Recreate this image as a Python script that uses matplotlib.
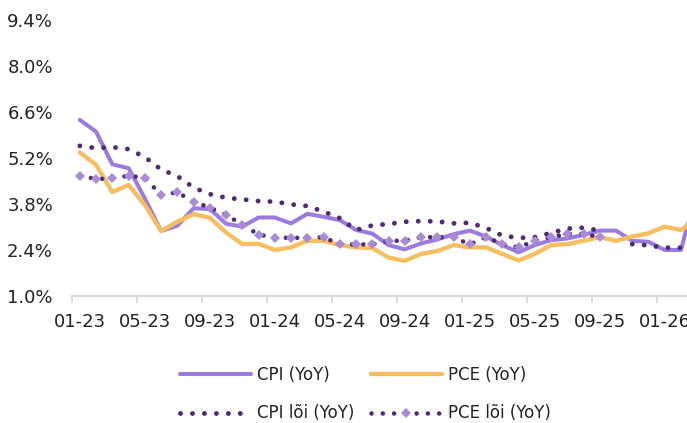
import numpy as np
import matplotlib
matplotlib.use("Agg")
import matplotlib.pyplot as plt

plt.rcParams['font.family'] = ['DejaVu Sans']

nan = np.nan
months = ["01-23", "02-23", "03-23", "04-23", "05-23", "06-23", "07-23", "08-23", "09-23", "10-23",
          "11-23", "12-23", "01-24", "02-24", "03-24", "04-24", "05-24", "06-24", "07-24", "08-24",
          "09-24", "10-24", "11-24", "12-24", "01-25", "02-25", "03-25", "04-25", "05-25", "06-25",
          "07-25", "08-25", "09-25", "10-25", "11-25", "12-25", "01-26", "02-26", "03-26"]

cpi = [6.36, 6.00, 5.01, 4.89, 3.97, 2.98, 3.14, 3.67, 3.65, 3.20,
       3.11, 3.39, 3.39, 3.21, 3.50, 3.41, 3.31, 3.01, 2.90, 2.55,
       2.42, 2.60, 2.72, 2.88, 2.99, 2.81, 2.55, 2.33, 2.55, 2.70,
       2.75, 2.86, 2.99, 2.99, 2.68, 2.65, 2.40, 2.40, 4.30]
pce = [5.37, 4.99, 4.16, 4.38, 3.77, 2.98, 3.26, 3.49, 3.38, 2.93,
       2.58, 2.59, 2.40, 2.48, 2.68, 2.68, 2.55, 2.48, 2.46, 2.17,
       2.07, 2.28, 2.37, 2.55, 2.48, 2.48, 2.28, 2.08, 2.28, 2.55,
       2.58, 2.68, 2.79, 2.68, 2.81, 2.91, 3.11, 3.01, 3.35]
cpi_core = [5.57, 5.50, 5.53, 5.47, 5.23, 4.85, 4.65, 4.30, 4.10, 3.99,
            3.94, 3.89, 3.87, 3.79, 3.74, 3.57, 3.37, 3.01, 3.15, 3.19,
            3.26, 3.28, 3.27, 3.21, 3.23, 3.07, 2.84, 2.77, 2.79, 2.92,
            3.05, 3.08, 2.99, nan, 2.58, 2.54, 2.47, 2.47, nan]
pce_core = [4.66, 4.56, 4.58, 4.66, 4.60, 4.07, 4.16, 3.87, 3.69, 3.47,
            3.17, 2.87, 2.78, 2.77, 2.77, 2.79, 2.57, 2.57, 2.57, 2.68,
            2.68, 2.79, 2.79, 2.79, 2.57, 2.79, 2.58, 2.48, 2.68, 2.79,
            2.89, 2.89, 2.79, nan, nan, nan, nan, nan, nan]

yticks = [1.0, 2.4, 3.8, 5.2, 6.6, 8.0, 9.4]

C_CPI = '#9B7BE2'
C_PCE = '#F6BE5E'
C_DARK = '#4E2A77'
C_DIAM = '#A98CD3'
C_AXIS = '#D9D9D9'

fig = plt.figure(figsize=(6.87, 4.23), dpi=100)
ax = fig.add_axes([0.1044, 0.3002, 0.8956, 0.6525])

x = np.arange(len(months))
h1, = ax.plot(x, cpi, color=C_CPI, lw=2.9, solid_joinstyle='round', solid_capstyle='round',
              label='CPI (YoY)', zorder=2)
h2, = ax.plot(x, pce, color=C_PCE, lw=3.1, solid_joinstyle='round', solid_capstyle='round',
              label='PCE (YoY)', zorder=3)
h3, = ax.plot(x, cpi_core, color=C_DARK, lw=3.5, linestyle=(0, (0.01, 2.45)),
              dash_capstyle='round', label='CPI lõi (YoY)', zorder=4)
h4, = ax.plot(x, pce_core, color=C_DARK, lw=3.3, linestyle=(0, (0.01, 2.45)),
              dash_capstyle='round', marker='D', markersize=5.2, markerfacecolor=C_DIAM,
              markeredgewidth=0, label='PCE lõi (YoY)', zorder=5)

ax.set_xlim(-0.5, 37.37)
ax.set_ylim(1.0, 9.4)

ax.set_yticks(yticks)
ax.set_yticklabels([f"{v:.1f}%" for v in yticks])
ax.tick_params(axis='y', length=0, pad=13.5, labelsize=13, colors='#222222')

major = [i - 0.5 for i in range(0, len(months) + 1, 4)]
ax.set_xticks(major)
ax.set_xticklabels([])
ax.set_xticks(list(range(0, len(months), 4)), minor=True)
ax.set_xticklabels([months[i] for i in range(0, len(months), 4)], minor=True)
ax.tick_params(axis='x', which='major', length=5, width=1.3, color=C_AXIS, direction='out')
ax.tick_params(axis='x', which='minor', length=0, pad=12.5, labelsize=13, labelcolor='#222222')

for s in ['top', 'right', 'left']:
    ax.spines[s].set_visible(False)
ax.spines['bottom'].set_color(C_AXIS)
ax.spines['bottom'].set_linewidth(1.5)

leg = fig.legend(handles=[h1, h3, h2, h4], loc='center', bbox_to_anchor=(0.532, 0.0685),
                 ncol=2, frameon=False, fontsize=12, handlelength=4.3, handletextpad=0.36,
                 columnspacing=0.95, labelspacing=1.25, numpoints=1)
for t in leg.get_texts():
    t.set_color('#222222')

fig.savefig('out.png', dpi=100)
